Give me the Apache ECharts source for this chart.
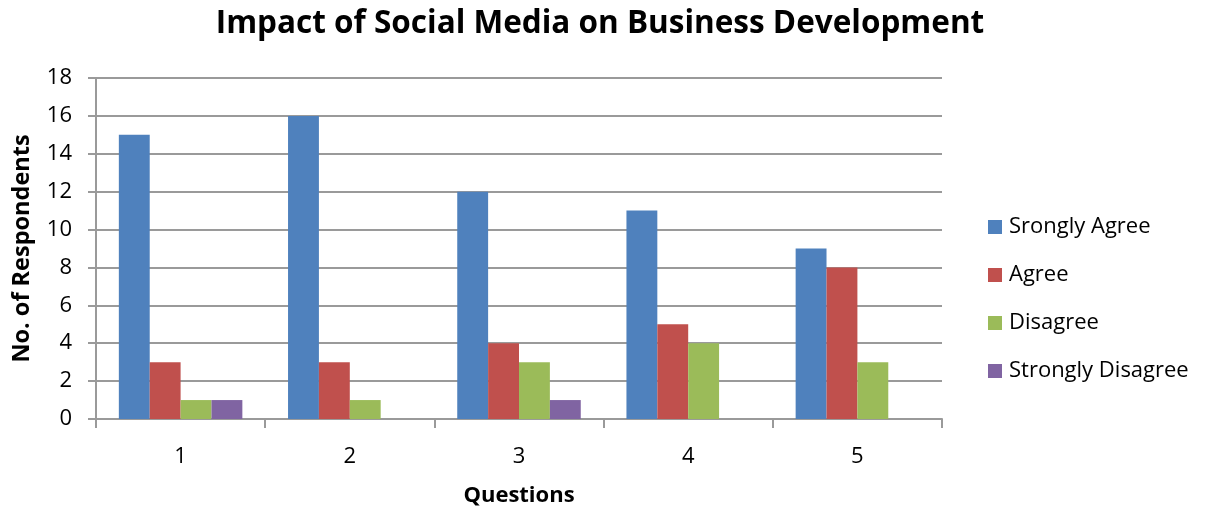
<!DOCTYPE html>
<html>
<head>
<meta charset="utf-8">
<script src="https://cdn.jsdelivr.net/npm/echarts@6/dist/echarts.min.js"></script>
<style>
  html, body { margin: 0; padding: 0; background: #fff; }
  #chart { width: 1205px; height: 512px; }
</style>
</head>
<body>
<div id="chart"></div>
<script>
// Survey responses per question
const questions = ['1', '2', '3', '4', '5'];
const stronglyAgree = [15, 16, 12, 11, 9];
const agree = [3, 3, 4, 5, 8];
const disagree = [1, 1, 3, 4, 3];
const stronglyDisagree = [1, 0, 1, 0, 0];
const seriesNames = ['Srongly Agree', 'Agree', 'Disagree', 'Strongly Disagree'];
const seriesColors = ['#4F81BD', '#C0504D', '#9BBB59', '#8064A2'];

const FONT = '"Open Sans", "Noto Sans", sans-serif';
const seriesData = [stronglyAgree, agree, disagree, stronglyDisagree];

const chart = echarts.init(document.getElementById('chart'));
chart.setOption({
  animation: false,
  backgroundColor: '#ffffff',
  title: {
    text: 'Impact of Social Media on Business Development',
    left: 595,
    textAlign: 'center',
    top: 3,
    textStyle: { fontFamily: FONT, fontWeight: 'bold', fontSize: 31.5, color: '#000' }
  },
  legend: {
    orient: 'vertical',
    left: 983,
    top: 211,
    itemWidth: 14,
    itemHeight: 14,
    itemGap: 26,
    icon: 'rect',
    data: seriesNames,
    textStyle: { fontFamily: FONT, fontSize: 22, color: '#000', padding: [0, 0, 0, 2] }
  },
  grid: { left: 96, right: 263, top: 78, bottom: 89 },
  xAxis: {
    type: 'category',
    data: questions,
    name: 'Questions',
    nameLocation: 'middle',
    nameGap: 66,
    nameTextStyle: { fontFamily: FONT, fontWeight: 'bold', fontSize: 22, color: '#000' },
    axisLine: { lineStyle: { color: '#9a9a9a', width: 2 } },
    axisTick: { show: true, length: 9, lineStyle: { color: '#9a9a9a', width: 2 } },
    axisLabel: { fontFamily: FONT, fontSize: 22, color: '#000', margin: 27 }
  },
  yAxis: {
    type: 'value',
    min: 0,
    max: 18,
    interval: 2,
    name: 'No. of Respondents',
    nameLocation: 'middle',
    nameGap: 62,
    nameTextStyle: { fontFamily: FONT, fontWeight: 'bold', fontSize: 23.5, color: '#000' },
    axisLine: { show: true, lineStyle: { color: '#9a9a9a', width: 2 } },
    axisTick: { show: true, length: 8, lineStyle: { color: '#9a9a9a', width: 2 } },
    splitLine: { lineStyle: { color: '#9a9a9a', width: 2 } },
    axisLabel: { fontFamily: FONT, fontSize: 22, color: '#000', margin: 24 }
  },
  series: seriesNames.map((name, i) => ({
    name: name,
    type: 'bar',
    data: seriesData[i],
    barGap: '0%',
    barCategoryGap: '27%',
    itemStyle: { color: seriesColors[i] }
  }))
});
</script>
</body>
</html>
